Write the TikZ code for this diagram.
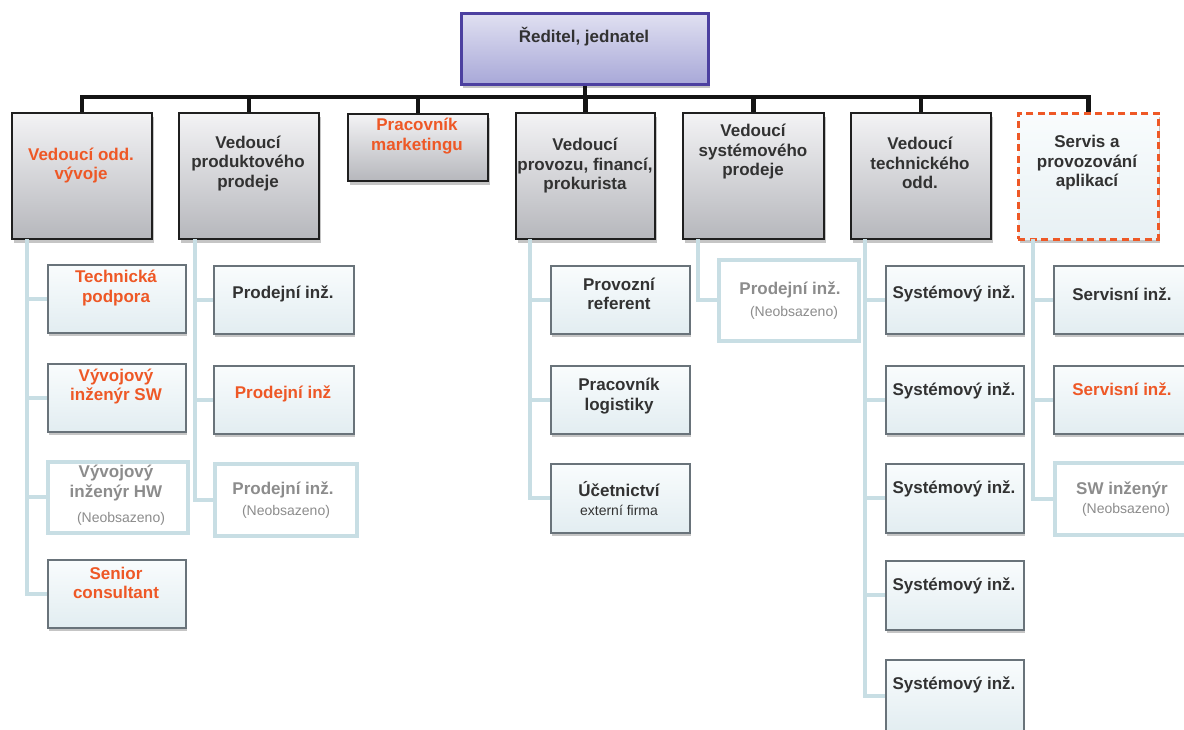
\documentclass[tikz,border=0pt]{standalone}
\usepackage{fontspec}
\setmainfont{Liberation Sans}
\usetikzlibrary{shadows,calc}
\definecolor{orng}{RGB}{238,88,38}
\definecolor{dtext}{RGB}{50,50,50}
\definecolor{gtext}{RGB}{140,140,140}
\definecolor{lblue}{RGB}{200,222,228}
\definecolor{cbord}{RGB}{105,115,122}
\definecolor{topfill1}{RGB}{224,224,241}
\definecolor{topfill2}{RGB}{168,168,216}
\definecolor{topbord}{RGB}{76,64,160}
\definecolor{mgr1}{RGB}{243,243,245}
\definecolor{mgr2}{RGB}{182,183,188}
\definecolor{ch1}{RGB}{249,252,253}
\definecolor{ch2}{RGB}{226,237,241}
\tikzset{
  shad/.style={drop shadow={shadow xshift=1.5pt, shadow yshift=-3.5pt, opacity=.3, fill=black!75}},
  topbox/.style={draw=topbord, line width=2.5pt, top color=topfill1, bottom color=topfill2, shad,
    minimum width=247pt, minimum height=71pt, inner sep=0pt, anchor=north west},
  mgrbox/.style={draw=black!88, line width=2pt, top color=mgr1, bottom color=mgr2, shad,
    minimum width=140pt, minimum height=126pt, inner sep=0pt, anchor=north west},
  svcbox/.style={draw=orng, line width=2.5pt, dash pattern=on 7pt off 4.5pt, top color=ch1, bottom color=ch2!80, shad,
    minimum width=140pt, minimum height=126pt, inner sep=0pt, anchor=north west},
  chbox/.style={draw=cbord, line width=1.5pt, top color=ch1, bottom color=ch2, shad,
    minimum width=138pt, minimum height=68pt, inner sep=0pt, anchor=north west},
  vacbox/.style={draw=lblue, line width=3.5pt, fill=white,
    minimum width=140pt, minimum height=71pt, inner sep=0pt, anchor=north west},
  bt/.style={font=\bfseries\fontsize{17}{19.5}\selectfont, align=center, inner sep=0pt, text=dtext, yshift=-2pt},
  ot/.style={bt, text=orng},
  gt/.style={bt, text=gtext},
  st/.style={font=\fontsize{14}{16}\selectfont, inner sep=0pt, text=gtext, yshift=-2pt},
  bus/.style={draw=black!92, line width=4.5pt},
  branch/.style={draw=lblue, line width=4pt}
}
\begin{document}
\begin{tikzpicture}[x=1pt,y=-1pt]
\useasboundingbox (0,0) rectangle (1184,729);
\clip (0,0) rectangle (1184,729);
% top
\node[topbox] (top) at (460,12) {};
\node[bt] (ttop) at (584,35) {Ředitel, jednatel};
% managers
\node[mgrbox] (m1) at (11,112) {};
\node[mgrbox] (m2) at (178,112) {};
\node[mgrbox, minimum height=67pt] (m3) at (347,113) {};
\node[mgrbox, minimum width=139pt] (m4) at (515,112) {};
\node[mgrbox, minimum width=141pt] (m5) at (682,112) {};
\node[mgrbox] (m6) at (850,112) {};
\node[svcbox] (m7) at (1017,112) {};
\node[ot] (tm1) at (81,163.5) {Vedoucí odd.\\vývoje};
\node[bt] (tm2) at (248,161.5) {Vedoucí\\produktového\\prodeje};
\node[ot] (tm3) at (417,134) {Pracovník\\marketingu};
\node[bt] (tm4) at (585,164) {Vedoucí\\provozu, financí,\\prokurista};
\node[bt] (tm5) at (753,150) {Vedoucí\\systémového\\prodeje};
\node[bt] (tm6) at (920,161) {Vedoucí\\technického\\odd.};
\node[bt] (tm7) at (1087,161) {Servis a\\provozování\\aplikací};
% bus
\coordinate (busy) at (0,97);
\draw[bus] (top.south) -- (busy -| top.south);
\draw[bus] (m1.north) |- (busy -| m7.north) -- (m7.north);
\foreach \m in {m2,m3,m4,m5,m6} { \draw[bus] (busy -| \m.north) -- (\m.north); }
% column 1
\node[chbox] (c11) at (47,264) {};
\node[chbox] (c12) at (47,363) {};
\node[vacbox] (c13) at (46,460) {};
\node[chbox] (c14) at (47,559) {};
\node[ot] (t11) at (116,286) {Technická\\podpora};
\node[ot] (t12) at (116,384.5) {Vývojový\\inženýr SW};
\node[gt] (t13) at (116,481) {Vývojový\\inženýr HW};
\node[st] (s13) at (121,517) {(Neobsazeno)};
\node[ot] (t14) at (116,581) {Senior\\consultant};
% column 2
\node[chbox, minimum width=140pt] (c21) at (213,265) {};
\node[chbox, minimum width=140pt] (c22) at (213,365) {};
\node[vacbox, minimum width=142pt, minimum height=72pt] (c23) at (213,462) {};
\node[bt] (t21) at (283,292) {Prodejní inž.};
\node[ot] (t22) at (283,392) {Prodejní inž};
\node[gt] (t23) at (283,488) {Prodejní inž.};
\node[st] (s23) at (286,510) {(Neobsazeno)};
% column 4
\node[chbox, minimum width=139pt] (c41) at (550,265) {};
\node[chbox, minimum width=139pt] (c42) at (550,365) {};
\node[chbox, minimum width=139pt, minimum height=69pt] (c43) at (550,463) {};
\node[bt] (t41) at (619,292) {Provozní\\referent};
\node[bt] (t42) at (619,394) {Pracovník\\logistiky};
\node[bt] (t43) at (619,487) {Účetnictví};
\node[st, text=dtext] (s43) at (619,508) {externí firma};
% column 5
\node[vacbox, minimum height=81pt] (c51) at (717,258) {};
\node[gt] (t51) at (790,288) {Prodejní inž.};
\node[st] (s51) at (794,311) {(Neobsazeno)};
% column 6
\node[chbox] (c61) at (885,265) {};
\node[chbox] (c62) at (885,365) {};
\node[chbox, minimum height=69pt] (c63) at (885,463) {};
\node[chbox, minimum height=69pt] (c64) at (885,560) {};
\node[chbox, minimum height=72pt] (c65) at (885,659) {};
\node[bt] (t61) at (954,292) {Systémový inž.};
\node[bt] (t62) at (954,389) {Systémový inž.};
\node[bt] (t63) at (954,487) {Systémový inž.};
\node[bt] (t64) at (954,584) {Systémový inž.};
\node[bt] (t65) at (954,683) {Systémový inž.};
% column 7
\node[chbox, minimum width=140pt] (c71) at (1053,265) {};
\node[chbox, minimum width=140pt] (c72) at (1053,365) {};
\node[vacbox, minimum height=72pt] (c73) at (1053,461) {};
\node[bt] (t71) at (1122,292) {Servisní inž.};
\node[ot] (t72) at (1122,387) {Servisní inž.};
\node[gt] (t73) at (1122,488) {SW inženýr};
\node[st] (s73) at (1126,508) {(Neobsazeno)};
% branches
\coordinate (v1) at (27,239);
\coordinate (v2) at (195,239);
\coordinate (v4) at (530,239);
\coordinate (v5) at (698,239);
\coordinate (v6) at (865,239);
\coordinate (v7) at (1033,239);
\foreach \c in {c11,c12,c13,c14} { \draw[branch] (v1) |- (\c.west); }
\foreach \c in {c21,c22,c23} { \draw[branch] (v2) |- (\c.west); }
\foreach \c in {c41,c42,c43} { \draw[branch] (v4) |- (\c.west); }
\draw[branch] (v5) |- (c51.west);
\foreach \c in {c61,c62,c63,c64,c65} { \draw[branch] (v6) |- (\c.west); }
\foreach \c in {c71,c72,c73} { \draw[branch] (v7) |- (\c.west); }
\end{tikzpicture}
\end{document}
